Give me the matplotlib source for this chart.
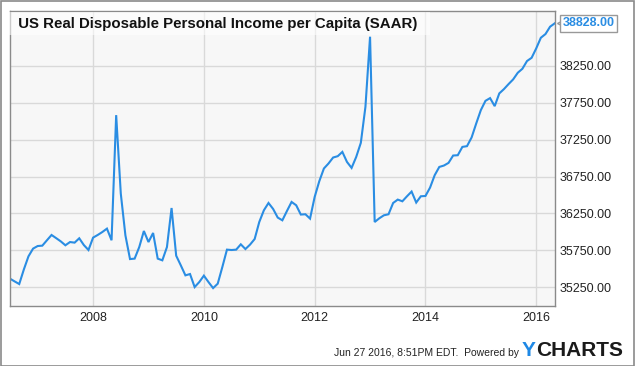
import matplotlib
matplotlib.use("Agg")
import matplotlib.pyplot as plt
import matplotlib.transforms as mtransforms
import numpy as np

# monthly values, Jul 2006 .. May 2016 (chart positions)
start_year = 2006.5
values = [
    35364, 35327, 35291, 35489, 35667, 35772, 35807, 35812, 35885, 35957,
    35914, 35870, 35817, 35861, 35853, 35912, 35820, 35753, 35921, 35957,
    35997, 36043, 35885, 37583, 36519, 35952, 35630, 35636, 35793, 36011,
    35861, 35984, 35636, 35613, 35793, 36323, 35676, 35545, 35409, 35427,
    35250, 35318, 35405, 35318, 35236, 35296, 35522, 35758, 35753, 35758,
    35830, 35766, 35826, 35902, 36133, 36292, 36391, 36310, 36193, 36156,
    36283, 36405, 36360, 36234, 36238, 36179, 36473, 36686, 36859, 36927,
    37008, 37026, 37084, 36948, 36867, 37016, 37207, 37696, 38647, 36133,
    36183, 36224, 36238, 36391, 36437, 36414, 36482, 36546, 36397, 36482,
    36486, 36600, 36768, 36880, 36899, 36935, 37035, 37039, 37152, 37162,
    37280, 37470, 37651, 37777, 37814, 37705, 37878, 37936, 38004, 38068,
    38158, 38212, 38317, 38361, 38489, 38633, 38683, 38783, 38828,
]
dates = start_year + np.arange(len(values)) / 12.0

x_ticks = [2008, 2010, 2012, 2014, 2016]
y_ticks = [35250, 35750, 36250, 36750, 37250, 37750, 38250]
title = "US Real Disposable Personal Income per Capita (SAAR)"
footer = "Jun 27 2016, 8:51PM EDT.  Powered by"

line_color = "#2a8de3"
plt.rcParams['font.family'] = ['Liberation Sans', 'DejaVu Sans']

W, H = 635, 366
fig = plt.figure(figsize=(W / 100, H / 100), dpi=100)
fig.patch.set_facecolor("white")

# outer frame
fig.add_artist(plt.Rectangle((0.5 / W, 0.5 / H), 1 - 1.5 / W, 1 - 1.5 / H, transform=fig.transFigure,
                             fill=False, edgecolor="#8a8a8a", linewidth=1.2))

left, right, top, bottom = 10, 554.7, 10.7, 305.5
ax = fig.add_axes([left / W, 1 - bottom / H, (right - left) / W, (bottom - top) / H])
ax.set_facecolor("#f7f7f7")

ax.plot(dates, values, color=line_color, linewidth=1.5, solid_joinstyle="miter")

ax.set_xlim(dates[0], dates[-1])
ax.set_ylim(35000, 39000)

ax.set_xticks(x_ticks)
ax.set_xticklabels([str(x) for x in x_ticks])
ax.set_yticks(y_ticks)
ax.set_yticklabels(["%.2f" % y for y in y_ticks])
ax.yaxis.tick_right()
ax.tick_params(axis="both", length=0, labelsize=9, colors="#222222")
ax.tick_params(axis="y", pad=3.5)
ax.tick_params(axis="x", pad=4.5)

ax.grid(True, color="#d9d9d9", linewidth=1)
ax.set_axisbelow(True)
for s in ax.spines.values():
    s.set_color("#8a8a8a")
    s.set_linewidth(1)

ax.text(0.0, 0.955, "  " + title + "  ", transform=ax.transAxes, ha="left", va="center",
        fontsize=10.8, fontweight="bold", color="#111111",
        bbox=dict(boxstyle="square,pad=0.3", facecolor="white", alpha=0.55, edgecolor="none"))

# last value tag: small chevron + box
chev = mtransforms.offset_copy(ax.transData, fig=fig, x=6, y=0, units="points")
ax.plot([dates[-1]], [values[-1]], marker="<", markersize=8, markerfacecolor="white",
        markeredgecolor="#999999", markeredgewidth=1, transform=chev, clip_on=False, zorder=4)
ax.annotate("%.2f" % values[-1], xy=(dates[-1], values[-1]), xytext=(5.5, 0),
            textcoords="offset points", ha="left", va="center", fontsize=9,
            fontweight="bold", color=line_color, annotation_clip=False, zorder=5,
            bbox=dict(boxstyle="square,pad=0.22", facecolor="white", edgecolor="#999999", linewidth=1))

fig.text(519 / W, 1 - 352.5 / H, footer, ha="right", va="center", fontsize=7.5, color="#222222")
fig.text(522 / W, 1 - 350.5 / H, "Y", ha="left", va="center", fontsize=15, fontweight="bold", color="#1e88e5")
fig.text(536 / W, 1 - 350.5 / H, "CHARTS", ha="left", va="center", fontsize=15, fontweight="bold", color="#1a1a1a")

fig.savefig("out.png", dpi=100)
